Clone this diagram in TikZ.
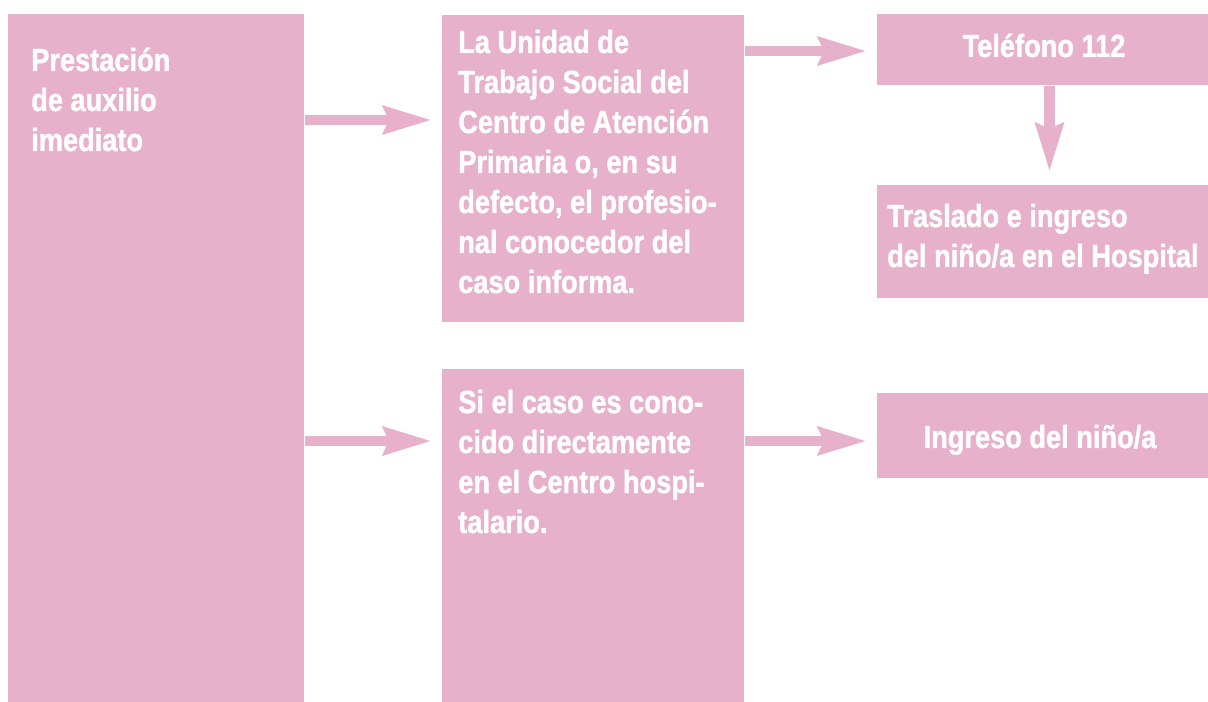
\documentclass[tikz,border=0pt]{standalone}
\usepackage{fontspec}
\setmainfont{Liberation Sans}[FakeStretch=0.85,BoldFeatures={FakeBold=1.2}]
\usetikzlibrary{arrows.meta}
\definecolor{rosa}{RGB}{231,176,203}

\tikzstyle{box}=[rectangle,fill=rosa,inner sep=0pt,anchor=north west]
\tikzstyle{flow}=[draw=rosa,line width=7.9pt,-{Stealth[length=36pt,width=20.25pt,inset=3.75pt]},shorten >=7.5pt]
\tikzstyle{txt}=[text=white,font=\bfseries\fontsize{24}{30}\selectfont,align=left,inner sep=0pt,anchor=base west]

\begin{document}
\begin{tikzpicture}[x=0.75pt,y=-0.75pt]
\useasboundingbox (0,0) rectangle (1208,702);
\foreach \pos/\w/\h/\name in {{(8,14)/222/516/prest}, {(442,15)/226.5/230.25/uni},
                               {(442,369)/226.5/249.75/hosp}, {(877,14)/248.25/53.25/tel},
                               {(877,185)/248.25/84.75/tras}, {(877,393)/248.25/63.75/ingr}}{
  \node[box,minimum width=\w pt,minimum height=\h pt] (\name) at \pos {};
}
% texto (ancla en la linea de base de la ultima linea)
\node[txt] (tprest) at (31,151) {Prestación\\de auxilio\\imediato};
\node[txt] (tuni) at (458,293) {La Unidad de\\Trabajo Social del\\Centro de Atención\\Primaria o, en su\\defecto, el profesio-\\nal conocedor del\\caso informa.};
\node[txt] (thosp) at (458,533) {Si el caso es cono-\\cido directamente\\en el Centro hospi-\\talario.};
\node[txt,anchor=base] (ttel) at (1044,57) {Teléfono 112};
\node[txt] (ttras) at (887,267) {Traslado e ingreso\\del niño/a en el Hospital};
\node[txt,anchor=base] (tingr) at (1040,448) {Ingreso del niño/a};
% flechas
\foreach \source/\dest/\y in {prest/uni/120, prest/hosp/441, uni/tel/51, hosp/ingr/441}{
  \draw[flow] (\source.east |- 0,\y) -- (\dest.west |- 0,\y);
}
\draw[flow,shorten >=9.75pt] (tel.south -| 1049.5,0) -- (tras.north -| 1049.5,0);
\end{tikzpicture}
\end{document}
